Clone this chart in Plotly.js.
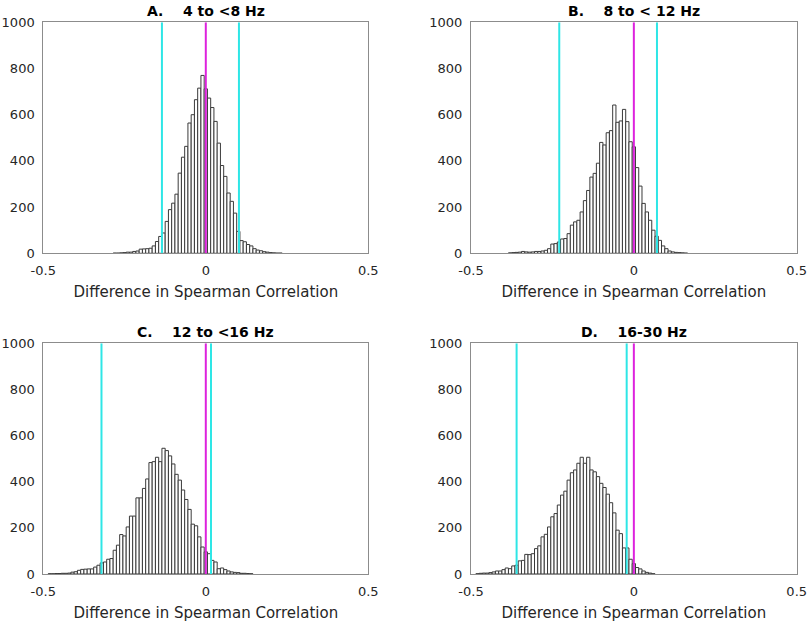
<!DOCTYPE html>
<html>
<head>
<meta charset="utf-8">
<script src="https://cdn.plot.ly/plotly-3.0.1.min.js"></script>
<style>html,body{margin:0;padding:0;background:#fff}#chart{width:810px;height:626px}</style>
</head>
<body>
<div id="chart"></div>
<script>
// ---- data ----
const binWidth = 0.01;
const panelTitles = [
  "A.&nbsp;&nbsp;&nbsp;&nbsp;4 to &lt;8 Hz",
  "B.&nbsp;&nbsp;&nbsp;&nbsp;8 to &lt; 12 Hz",
  "C.&nbsp;&nbsp;&nbsp;&nbsp;12 to &lt;16 Hz",
  "D.&nbsp;&nbsp;&nbsp;&nbsp;16-30 Hz"
];
const xAxisLabel = "Difference in Spearman Correlation";

// first bin index (bin centre = index * binWidth) and counts per bin
const firstBinA = -28;
const countsA = [1,1,2,3,5,5,8,10,18,19,20,22,32,51,73,88,138,189,217,256,347,416,463,564,600,665,715,770,
                 712,672,631,571,477,380,333,261,225,174,95,55,50,38,32,20,14,11,7,5,3,2,1,1];
const firstBinB = -38;
const countsB = [2,3,4,5,8,6,5,6,8,8,10,13,20,40,42,49,62,64,85,122,136,143,179,228,272,330,346,390,480,469,522,531,642,567,573,623,570,483,
                 461,371,291,216,179,143,100,74,56,32,20,10,6,4,3,2,1];
const firstBinC = -48;
const countsC = [1,1,2,2,3,3,4,8,10,16,20,21,22,22,30,38,48,52,64,67,103,125,171,165,204,251,251,330,330,371,412,483,487,506,487,545,535,512,477,432,407,364,323,280,216,209,161,117,
                 96,88,59,52,23,26,19,13,9,7,6,3,3,2,1];
const firstBinD = -48;
const countsD = [1,3,4,4,6,9,13,13,19,26,23,35,38,57,59,85,84,88,110,122,161,172,204,248,262,299,342,359,407,439,451,480,506,480,506,451,443,422,393,375,346,309,265,190,175,113,113,64,
                 45,28,22,13,7,4,1];

const cyanLinesA = [-0.135, 0.102];
const cyanLinesB = [-0.229, 0.071];
const cyanLinesC = [-0.321, 0.016];
const cyanLinesD = [-0.360, -0.022];
const magentaLine = 0;

const xTickVals = [-0.5, 0, 0.5];
const xTickText = ["-0.5", "0", "0.5"];
const yTickVals = [0, 200, 400, 600, 800, 1000];
const yTickText = ["0", "200", "400", "600", "800", "1000"];

// ---- layout geometry ----
const W = 810, H = 626;
const colDomains = [[43.3 / W, 368.3 / W], [471 / W, 796.7 / W]];
const rowDomains = [[(H - 253.3) / H, (H - 22.3) / H], [(H - 574) / H, (H - 343.3) / H]];

const panels = [
  {first: firstBinA, counts: countsA, cyan: cyanLinesA, col: 0, row: 0},
  {first: firstBinB, counts: countsB, cyan: cyanLinesB, col: 1, row: 0},
  {first: firstBinC, counts: countsC, cyan: cyanLinesC, col: 0, row: 1},
  {first: firstBinD, counts: countsD, cyan: cyanLinesD, col: 1, row: 1}
];

const fontFam = "DejaVu Sans, Arial, sans-serif";
const textCol = "#262626";
const boxCol = "rgb(140,140,140)";

const traces = [];
const shapes = [];
const annotations = [];
const layout = {
  width: W, height: H,
  margin: {l: 0, r: 0, t: 0, b: 0},
  paper_bgcolor: "#fff", plot_bgcolor: "#fff",
  showlegend: false,
  font: {family: fontFam, size: 13, color: textCol}
};

panels.forEach((p, i) => {
  const n = i + 1;
  const xa = n === 1 ? "x" : "x" + n;
  const ya = n === 1 ? "y" : "y" + n;
  traces.push({
    type: "bar",
    x: p.counts.map((c, j) => (p.first + j) * binWidth),
    y: p.counts,
    width: binWidth,
    xaxis: xa, yaxis: ya,
    marker: {color: "#ffffff", line: {color: "#3a3a3a", width: 1}},
    hoverinfo: "x+y"
  });
  layout["xaxis" + (n === 1 ? "" : n)] = {
    domain: colDomains[p.col], anchor: ya, range: [-0.5, 0.5],
    tickmode: "array", tickvals: xTickVals, ticktext: xTickText,
    showgrid: false, zeroline: false, showline: true, mirror: true,
    linecolor: boxCol, linewidth: 1, ticks: "",
    ticklabelstandoff: 5,
    tickfont: {family: fontFam, size: 13, color: textCol},
    title: {text: xAxisLabel, font: {family: fontFam, size: 15, color: textCol}, standoff: 9}
  };
  layout["yaxis" + (n === 1 ? "" : n)] = {
    domain: rowDomains[p.row], anchor: xa, range: [0, 1000],
    tickmode: "array", tickvals: yTickVals, ticktext: yTickText,
    showgrid: false, zeroline: false, showline: true, mirror: true,
    linecolor: boxCol, linewidth: 1, ticks: "",
    ticklabelstandoff: 5,
    tickfont: {family: fontFam, size: 13, color: textCol}
  };
  p.cyan.forEach(v => shapes.push({
    type: "line", xref: xa, yref: ya, x0: v, x1: v, y0: 0, y1: 1000,
    line: {color: "#2ee6e6", width: 2}
  }));
  shapes.push({
    type: "line", xref: xa, yref: ya, x0: magentaLine, x1: magentaLine, y0: 0, y1: 1000,
    line: {color: "#dd22dd", width: 2}
  });
  annotations.push({
    xref: xa + " domain", yref: ya + " domain", x: 0.5, y: 1,
    xanchor: "center", yanchor: "bottom", yshift: 1,
    text: "<b>" + panelTitles[i] + "</b>", showarrow: false,
    font: {family: fontFam, size: 14, color: "#000"}
  });
});
layout.shapes = shapes;
layout.annotations = annotations;

Plotly.newPlot("chart", traces, layout, {displayModeBar: false, staticPlot: true});
</script>
</body>
</html>
